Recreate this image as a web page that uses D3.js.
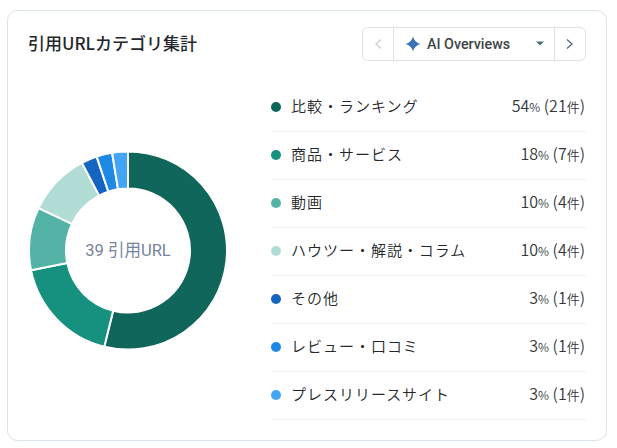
<!DOCTYPE html>
<html><head><meta charset="utf-8">
<script src="https://cdn.jsdelivr.net/npm/d3@7"></script>
<style>
html,body{margin:0;padding:0;background:#fff;overflow:hidden}
text{font-family:Roboto,"Noto Sans CJK JP",sans-serif}
.cjk{font-family:"Noto Sans CJK JP",sans-serif}
</style></head><body>
<svg id="c" width="617" height="448"></svg>
<script>
const categories=["比較・ランキング","商品・サービス","動画","ハウツー・解説・コラム","その他","レビュー・口コミ","プレスリリースサイト"];
const counts=[21,7,4,4,1,1,1];
const percents=[54,18,10,10,3,3,3];
const colors=["#10665a","#16917f","#52b3a6","#b2ddd7","#1565c0","#1e88e5","#42a5f5"];
const totalLabel="39 引用URL";
const title="引用URLカテゴリ集計";
const selector="AI Overviews";

const svg=d3.select("#c");
svg.append("rect").attr("x",7.5).attr("y",10.5).attr("width",599).attr("height",430).attr("rx",10)
  .attr("fill","#fff").attr("stroke","#d8e3ec");
svg.append("text").attr("class","cjk").attr("x",28).attr("y",49.5).attr("font-size",17).attr("font-weight",500).attr("fill","#24282c").text(title);

// selector
const b=svg.append("g");
b.append("rect").attr("x",362.5).attr("y",27.5).attr("width",223).attr("height",33).attr("rx",5)
  .attr("fill","#fff").attr("stroke","#dde3e8");
[393.5,554.5].forEach(x=>b.append("line").attr("x1",x).attr("x2",x).attr("y1",28).attr("y2",60).attr("stroke","#dde3e8"));
b.append("path").attr("d","M381 39.5L376 44L381 48.5").attr("fill","none").attr("stroke","#c9d1d8").attr("stroke-width",1.3);
b.append("path").attr("d","M567 39.5L572 44L567 48.5").attr("fill","none").attr("stroke","#5a6a82").attr("stroke-width",1.3);
b.append("path").attr("d","M413 36.5Q414.5 42.5 420.5 44Q414.5 45.5 413 51.5Q411.5 45.5 405.5 44Q411.5 42.5 413 36.5Z").attr("fill","#3b72b8");
b.append("text").attr("x",427).attr("y",49).attr("font-size",14.3).attr("font-weight",500).attr("fill","#3f4448").text(selector);
b.append("path").attr("d","M536 41.5H544L540 45.5Z").attr("fill","#4d6f7c");

// donut
const cx=128,cy=250.5;
const pie=d3.pie().sort(null).value(d=>d);
const arc=d3.arc().innerRadius(62).outerRadius(99);
const g=svg.append("g").attr("transform",`translate(${cx},${cy})`);
g.selectAll("path").data(pie(counts)).join("path").attr("d",arc)
  .attr("fill",(d,i)=>colors[i]).attr("stroke","#fff").attr("stroke-width",2);
g.append("text").attr("text-anchor","middle").attr("y",5.5).attr("font-size",16.5).attr("fill","#76839b").text(totalLabel);

// legend
const y=d3.scalePoint().domain(d3.range(categories.length)).range([107,395]);
const rows=svg.append("g").selectAll("g").data(categories).join("g").attr("transform",(d,i)=>`translate(0,${y(i)})`);
rows.append("circle").attr("cx",276).attr("r",5).attr("fill",(d,i)=>colors[i]);
rows.append("text").attr("class","cjk").attr("x",291).attr("y",5).attr("font-size",15).attr("letter-spacing",0.98).attr("font-weight",350).attr("fill","#24282c").text(d=>d);
const v=rows.append("text").attr("class","cjk").attr("x",585).attr("y",5).attr("text-anchor","end").attr("font-size",16).attr("font-weight",350).attr("fill","#33383d");
v.append("tspan").text((d,i)=>percents[i]);
v.append("tspan").attr("font-size",12).text("%");
v.append("tspan").text((d,i)=>" ("+counts[i]);
v.append("tspan").attr("font-size",13).text("件");
v.append("tspan").text(")");
rows.append("line").attr("x1",271).attr("x2",586).attr("y1",24.5).attr("y2",24.5).attr("stroke","#f0f2f4");
</script></body></html>
